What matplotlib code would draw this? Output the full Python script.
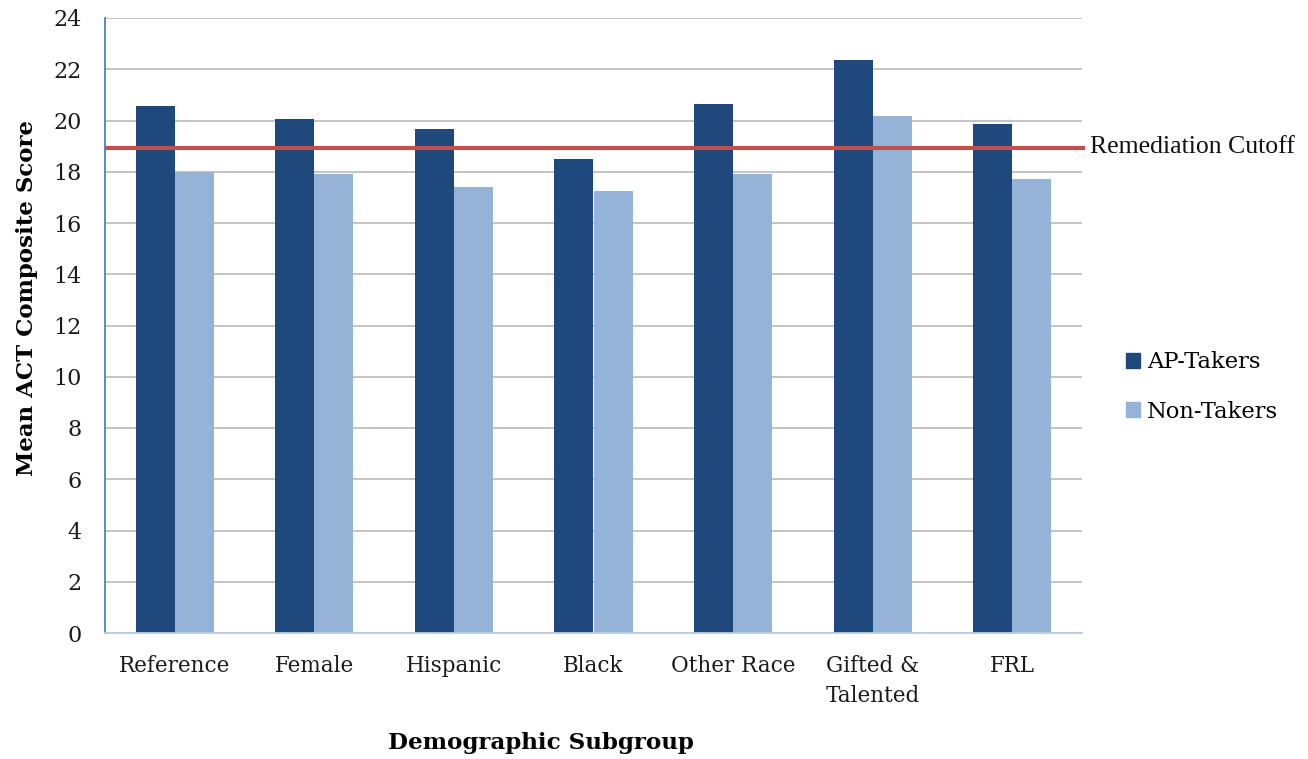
import matplotlib
matplotlib.use("Agg")
import matplotlib.pyplot as plt
import numpy as np
from matplotlib.patches import Patch

categories = ["Reference", "Female", "Hispanic", "Black", "Other Race", "Gifted &\nTalented", "FRL"]
ap_takers = [20.55, 20.04, 19.65, 18.48, 20.63, 22.38, 19.88]
non_takers = [18.0, 17.93, 17.42, 17.23, 17.93, 20.16, 17.73]
cutoff = 18.93
yticks = list(range(0, 25, 2))

plt.rcParams['font.family'] = ['DejaVu Serif']

fig = plt.figure(figsize=(13.08, 7.59), dpi=100)
ax = fig.add_axes([105/1308, 1-633/759, (1082-105)/1308, (633-18)/759])

x = np.arange(len(categories))
w = 0.28
ap_col = "#1F497D"
non_col = "#95B3D7"
ax.bar(x - w/2, ap_takers, w, color=ap_col, label="AP-Takers", zorder=2, linewidth=0)
ax.bar(x + w/2, non_takers, w, color=non_col, label="Non-Takers", zorder=2, linewidth=0)

ax.set_xlim(-0.5, len(categories) - 0.5)
ax.set_ylim(0, 24)
ax.set_yticks(yticks)
ax.set_yticklabels([str(t) for t in yticks], fontsize=16)
ax.set_xticks(x)
ax.set_xticklabels(categories, fontsize=15.5, linespacing=1.45)
ax.tick_params(axis='both', length=0, colors='#1a1a1a')
ax.tick_params(axis='x', pad=16)
ax.tick_params(axis='y', pad=17)

ax.grid(axis='y', color='#BFBFBF', linewidth=1.3, zorder=0)
for s in ['top', 'right']:
    ax.spines[s].set_visible(False)
ax.spines['left'].set_color('#4F81BD')
ax.spines['left'].set_linewidth(1.3)
ax.spines['bottom'].set_color('#B9CDE5')
ax.spines['bottom'].set_linewidth(1.3)

ax.plot([-0.5, len(categories) - 0.48], [cutoff, cutoff], color='#C0504D', linewidth=3,
        zorder=3, clip_on=False, solid_capstyle='butt')
ax.text(1.008, cutoff + 0.03, "Remediation Cutoff", transform=ax.get_yaxis_transform(),
        va='center', ha='left', fontsize=18.5, family='Liberation Serif', color='#111111')

fig.text(27/1308, 1-298/759, "Mean ACT Composite Score", fontsize=16.5, fontweight='bold',
         rotation=90, ha='center', va='center')
fig.text(541/1308, 1-743/759, "Demographic Subgroup", fontsize=16.6, fontweight='bold',
         ha='center', va='center')

handles = [Patch(color=ap_col), Patch(color=non_col)]
fig.legend(handles, ["AP-Takers", "Non-Takers"], loc='center left',
           bbox_to_anchor=(1106/1308, 1-387/759), frameon=False, fontsize=16.3,
           handlelength=0.62, handleheight=0.62, handletextpad=0.3, labelspacing=1.2)

fig.savefig("out.png", dpi=100)
